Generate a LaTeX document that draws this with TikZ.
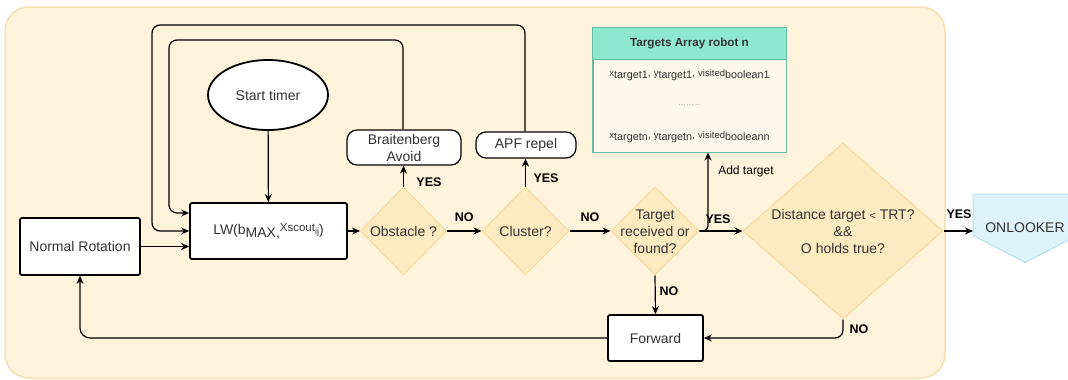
\documentclass[tikz,border=0pt]{standalone}
\usepackage{fontspec}
\setmainfont{Liberation Sans}
\usetikzlibrary{shapes.geometric,arrows.meta,calc}

\definecolor{panelfill}{RGB}{255,243,220}
\definecolor{paneldraw}{RGB}{246,224,176}
\definecolor{diafill}{RGB}{254,234,192}
\definecolor{diadraw}{RGB}{246,218,156}
\definecolor{mint}{RGB}{142,232,208}
\definecolor{teal}{RGB}{104,190,160}
\definecolor{skyfill}{RGB}{222,243,251}
\definecolor{skydraw}{RGB}{182,222,240}
\definecolor{ink}{RGB}{51,51,51}

% small variable name followed by a lowered index
\newcommand{\varidx}[2]{{\fontsize{9.5}{11}\selectfont #1}\raisebox{-2.5pt}{#2}}

\tikzset{
  base/.style={font=\fontsize{14}{17}\selectfont, text=ink, align=center, inner sep=0pt},
  procbox/.style={base, draw=black, line width=1.8pt, fill=white, rounded corners=2pt},
  softbox/.style={base, draw=black, line width=1.2pt, fill=white, rounded corners=10pt},
  decision/.style={shape=diamond, draw=diadraw, line width=1pt, fill=diafill, inner sep=0pt},
  txt/.style={base},
  lbl/.style={font=\fontsize{12.5}{14}\selectfont\bfseries, text=black, inner sep=0pt},
  arr/.style={line width=1.2pt, -{Stealth[length=8pt,width=7pt]}},
  plain/.style={line width=1.2pt},
  rowtxt/.style={font=\fontsize{10.8}{12}\selectfont, text=ink, inner sep=0pt},
}

\begin{document}
\begin{tikzpicture}[x=1pt,y=-1pt]
\useasboundingbox (0,0) rectangle (1068,380);
\fill[white] (0,0) rectangle (1068,380);

% container panel
\draw[fill=panelfill, draw=paneldraw, line width=1.5pt, rounded corners=24pt] (5,7) rectangle (945,378);

% process boxes
\node[procbox, minimum width=120, minimum height=57] (rot) at (80,246.5) {Normal Rotation};
\node[procbox, minimum width=157, minimum height=56] (lw) at (268.5,231)
  {LW(b\raisebox{-3pt}{MAX,}\raisebox{3pt}{\fontsize{11.5}{13}\selectfont Xscout\raisebox{-3pt}{\fontsize{9}{10}\selectfont ij}})};
\node[base, shape=ellipse, draw=black, line width=1.8pt, fill=white, minimum width=120, minimum height=70] (st) at (268,95) {Start timer};
\node[procbox, minimum width=95, minimum height=46] (fwd) at (655.5,338) {Forward};

% side actions
\node[softbox, minimum width=114, minimum height=35] (brt) at (404,147.5) {Braitenberg\\Avoid};
\node[softbox, minimum width=100, minimum height=26] (apf) at (526,145) {APF repel};

% decisions
\node[decision, minimum width=86, minimum height=88] (obs) at (403.5,231) {};
\node[txt] (obs-t) at (obs) {Obstacle ?};
\node[decision, minimum width=87, minimum height=88] (clu) at (525.5,231) {};
\node[txt] (clu-t) at (clu) {Cluster?};
\node[decision, minimum width=88, minimum height=88] (tgt) at (655,231) {};
\node[txt] (tgt-t) at (655,231.5) {Target\\received or\\found?};
\node[decision, minimum width=200, minimum height=176] (dst) at (843,231) {};
\node[txt] (dst-t) at (843,231.5) {Distance target {\fontsize{11}{13}\selectfont <} TRT?\\\&\&\\O holds true?};

% targets array
\node[draw=teal, line width=1pt, fill=panelfill!60!white, minimum width=193, minimum height=124, inner sep=0pt] (tarr) at (689.5,90) {};
\fill[mint] (tarr.north west) rectangle ($(tarr.north east)+(0,32)$);
\draw[teal, line width=1pt] ($(tarr.north west)+(0,32)$) -- ($(tarr.north east)+(0,32)$);
\draw[teal, line width=1pt] (tarr.north west) rectangle (tarr.south east);
\node[font=\fontsize{11.7}{13}\selectfont\bfseries, text=ink, inner sep=0pt] (tarr-h) at (689.5,44) {Targets Array robot n};
\node[rowtxt] (row1) at (689.5,75) {\varidx{x}{target1}, \varidx{y}{target1}, \varidx{visited}{boolean1}};
\node[font=\fontsize{6}{7}\selectfont, text=ink!70, inner sep=0pt] (row2) at (689.5,106) {..., ..., ...};
\node[rowtxt] (row3) at (689.5,137) {\varidx{x}{targetn}, \varidx{y}{targetn}, \varidx{visited}{booleann}};

% onlooker off-page connector
\node[minimum width=104, minimum height=41, inner sep=0pt, anchor=north west] (onl) at (973,194) {};
\draw[fill=skyfill, draw=skydraw, line width=1pt]
  (onl.north west) -- (onl.north east) -- (onl.south east) -- ($(onl.south)+(0,27)$) -- (onl.south west) -- cycle;
\node[txt] (onl-t) at (1025,228) {ONLOOKER};

% bend points
\coordinate (l1a) at (403,40);
\coordinate (l1b) at (169,40);
\coordinate (l1c) at (169,213);
\coordinate (l2a) at (525,25);
\coordinate (l2b) at (152,25);
\coordinate (l2c) at (152,231);
\coordinate (jn) at (708,231);
\coordinate (jn0) at (699,231);

% connectors
\draw[arr] (st) -- (lw);
\draw[arr] (rot.east) -- (lw.west |- rot.east);
\draw[arr] (lw) -- (obs);
\draw[arr] (obs) -- node[lbl, above=9pt] (no1) {NO} (clu);
\draw[arr] (clu) -- node[lbl, above=9pt] (no2) {NO} (tgt);
\draw[arr] (tgt) -- (dst);
\node[lbl] (yes3) at (718,219) {YES};
\draw[plain, -{Stealth[length=8pt,width=7pt]}, rounded corners=5pt] (jn0) -- (jn) -- (jn |- tarr.south);
\node[font=\fontsize{12}{14}\selectfont, text=black, inner sep=0pt] (addt) at (746,171) {Add target};
\draw[arr] (dst.east) -- (onl.west |- dst.east);
\node[lbl] (yes4) at (959,214) {YES};

\draw[arr] (obs.north) -- (obs.north |- brt.south);
\node[lbl] (yes1) at (429,182) {YES};
\draw[arr] (clu.north) -- (clu.north |- apf.south);
\node[lbl] (yes2) at (546,178) {YES};

\draw[arr, rounded corners=8pt] (brt.north -| l1a) -- (l1a) -- (l1b) -- (l1c) -- (lw.west |- l1c);
\draw[arr, rounded corners=8pt] (apf.north -| l2a) -- (l2a) -- (l2b) -- (l2c) -- (lw.west |- l2c);

\draw[arr] (tgt.south) -- (fwd.north);
\node[lbl] (no3) at (669,291) {NO};
\draw[arr, rounded corners=8pt] (dst.south) -- (dst.south |- fwd.east) -- (fwd.east);
\node[lbl] (no4) at (859,329) {NO};
\draw[arr, rounded corners=10pt] (fwd.west) -- (rot.south |- fwd.west) -- (rot.south);
\end{tikzpicture}
\end{document}
